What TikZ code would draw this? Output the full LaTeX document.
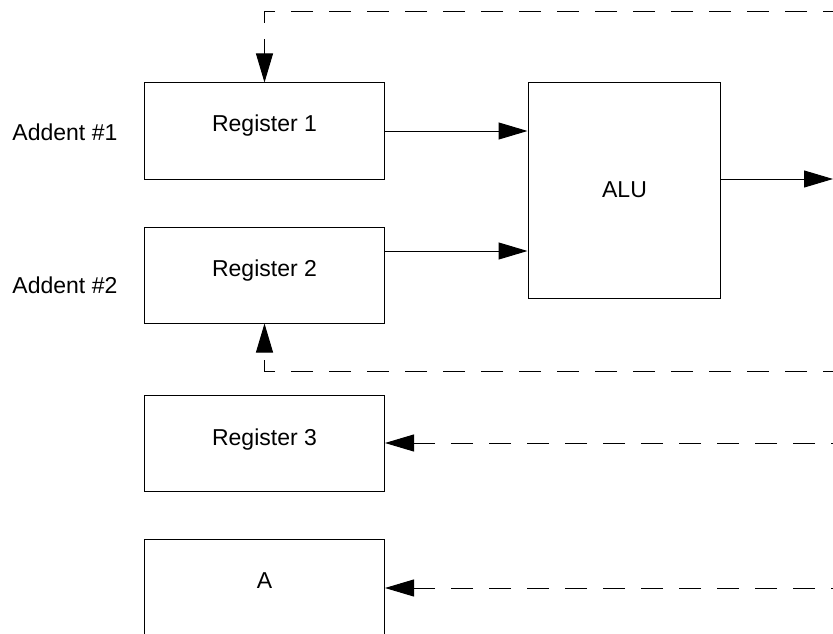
\documentclass[tikz,border=0pt]{standalone}
\usepackage{fontspec}
\setmainfont{Liberation Sans}
\usetikzlibrary{arrows.meta}
\begin{document}
\begin{tikzpicture}[x=1pt,y=-1pt,line width=1pt,
  box/.style={draw=black,line width=1pt,rectangle,inner sep=0pt},
  lbl/.style={anchor=base,inner sep=0pt,font=\fontsize{23}{27}\selectfont},
  tip/.style={-{Triangle[length=29pt,width=17pt]}},
  dsh/.style={dash pattern=on 22pt off 16pt}]
\useasboundingbox (0,0) rectangle (833,634);
\clip (0,0) rectangle (833,634);
% boxes
\node[box,minimum width=240pt,minimum height=96pt] (r1) at (264.5,131) {};
\node[box,minimum width=240pt,minimum height=96pt] (r2) at (264.5,275) {};
\node[box,minimum width=240pt,minimum height=96pt] (r3) at (264.5,443) {};
\node[box,minimum width=240pt,minimum height=96pt] (ra) at (264.5,587.5) {};
\node[box,minimum width=192pt,minimum height=215pt] (alu) at (624,190.5) {};
% labels
\node[lbl] (t1) at (264.5,131.7) {Register 1};
\node[lbl] (t2) at (264.5,276.7) {Register 2};
\node[lbl] (t3) at (264.5,445) {Register 3};
\node[lbl] (ta) at (264.5,588) {A};
\node[lbl] (talu) at (624.5,197) {ALU};
\node[lbl,anchor=base west] (a1) at (12,140.7) {Addent \#1};
\node[lbl,anchor=base west] (a2) at (12,293.3) {Addent \#2};
% free ends
\coordinate (e0) at (833,12);
\coordinate (e1) at (833,179);
\coordinate (e2) at (833,371);
\coordinate (e3) at (833,443);
\coordinate (e4) at (833,588);
% solid arrows
\draw[tip] (r1.east |- 0,131) -- (alu.west |- 0,131);
\draw[tip] (r2.east |- 0,251) -- (alu.west |- 0,251);
\draw[tip] (alu.east |- e1) -- (e1);
% dashed feedback
\draw[tip,dsh,dash phase=12pt] (e0) -- (r1.north |- e0) -- (r1.north);
\draw[tip,dsh,dash phase=12pt] (e2) -- (r2.south |- e2) -- (r2.south);
\draw[tip,dsh,dash phase=20pt] (e3) -- (r3.east |- e3);
\draw[tip,dsh,dash phase=20pt] (e4) -- (ra.east |- e4);
\end{tikzpicture}
\end{document}
